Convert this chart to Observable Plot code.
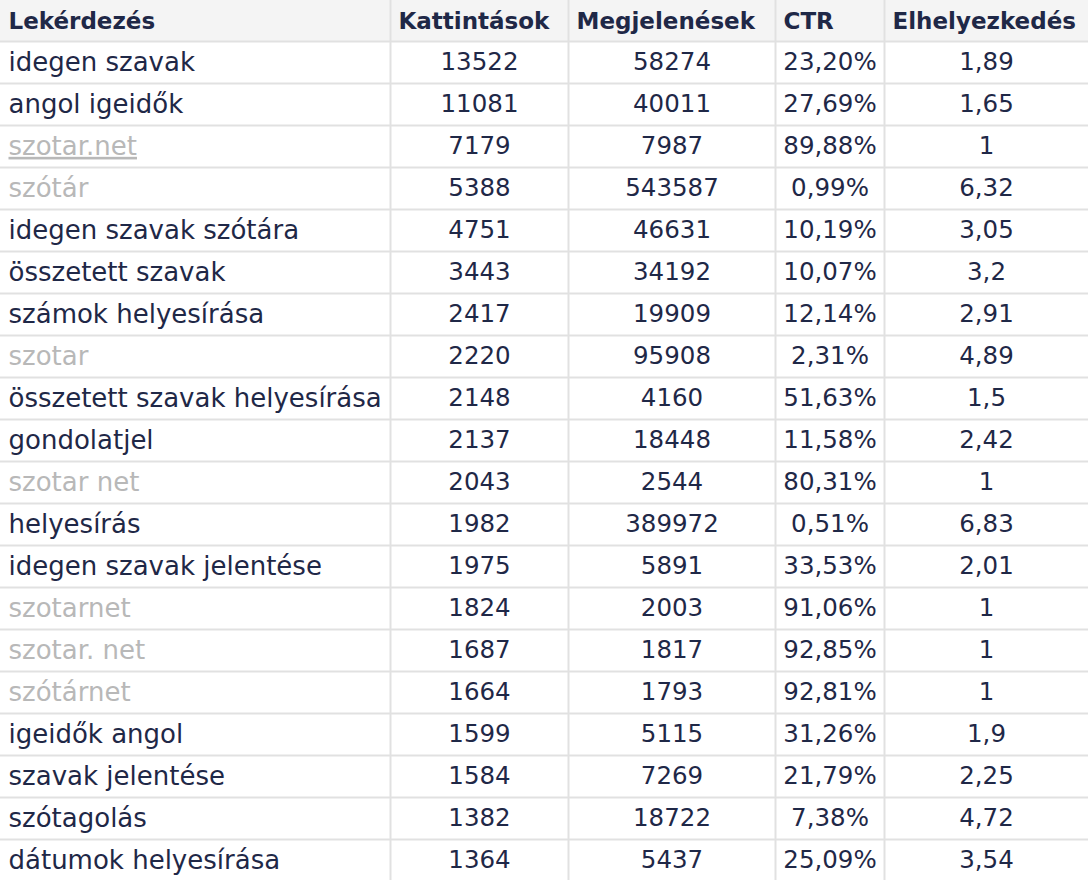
<!DOCTYPE html>
<html>
<head>
<meta charset="utf-8">
<script src="https://cdn.jsdelivr.net/npm/d3@7"></script>
<script src="https://cdn.jsdelivr.net/npm/@observablehq/plot@0.6"></script>
<style>
  html, body { margin: 0; padding: 0; background: #ffffff; }
  #chart svg { display: block; }
</style>
</head>
<body>
<div id="chart"></div>
<script>
// ---- Data ----
const headers = ["Lekérdezés", "Kattintások", "Megjelenések", "CTR", "Elhelyezkedés"];
const queries = [
  "idegen szavak", "angol igeidők", "szotar.net", "szótár", "idegen szavak szótára",
  "összetett szavak", "számok helyesírása", "szotar", "összetett szavak helyesírása", "gondolatjel",
  "szotar net", "helyesírás", "idegen szavak jelentése", "szotarnet", "szotar. net",
  "szótárnet", "igeidők angol", "szavak jelentése", "szótagolás", "dátumok helyesírása"
];
const clicks = [13522, 11081, 7179, 5388, 4751, 3443, 2417, 2220, 2148, 2137,
                2043, 1982, 1975, 1824, 1687, 1664, 1599, 1584, 1382, 1364];
const impressions = [58274, 40011, 7987, 543587, 46631, 34192, 19909, 95908, 4160, 18448,
                     2544, 389972, 5891, 2003, 1817, 1793, 5115, 7269, 18722, 5437];
const ctr = [23.20, 27.69, 89.88, 0.99, 10.19, 10.07, 12.14, 2.31, 51.63, 11.58,
             80.31, 0.51, 33.53, 91.06, 92.85, 92.81, 31.26, 21.79, 7.38, 25.09];
const position = [1.89, 1.65, 1, 6.32, 3.05, 3.2, 2.91, 4.89, 1.5, 2.42,
                  1, 6.83, 2.01, 1, 1, 1, 1.9, 2.25, 4.72, 3.54];
const brandQueries = ["szotar.net", "szótár", "szotar", "szotar net", "szotarnet", "szotar. net", "szótárnet"];
const linkQueries = ["szotar.net"];

// ---- Layout (not data) ----
const W = 1088, H = 880;
const colEdges = [0, 390, 568, 775, 884, W];
const pad = 8;
const dark = "#1f2847";
const gray = "#b8b8b8";
const lineColor = "#e1e1e1";
const fontFamily = "'DejaVu Sans', 'Open Sans', sans-serif";

const fmtInt = v => String(v);
const fmtPct = v => v.toFixed(2).replace(".", ",") + "%";
const fmtNum = v => String(v).replace(".", ",");

const rows = queries.map((q, i) => ({
  row: i + 1,
  query: q,
  brand: brandQueries.includes(q),
  link: linkQueries.includes(q),
  cells: [q, fmtInt(clicks[i]), fmtInt(impressions[i]), fmtPct(ctr[i]), fmtNum(position[i])]
}));

const headerCells = headers.map((h, c) => ({c, text: h, x: colEdges[c] + pad}));
const bodyCells = rows.flatMap(r => r.cells.map((t, c) => ({
  row: r.row, c, text: t,
  x: c === 0 ? colEdges[0] + pad : (colEdges[c] + colEdges[c + 1]) / 2,
  anchor: c === 0 ? "start" : "middle",
  color: (c === 0 && r.brand) ? gray : dark,
  link: c === 0 && r.link
})));

const chart = Plot.plot({
  width: W,
  height: H,
  margin: 0,
  x: {domain: [0, W], range: [0, W], axis: null},
  y: {domain: [0, queries.length + 1], range: [-1, 881], axis: null},
  style: {fontFamily, background: "#ffffff"},
  marks: [
    Plot.rect([0], {x1: 0, x2: W, y1: 0, y2: 1, fill: "#f4f4f4"}),
    Plot.ruleY(d3.range(1, queries.length + 1), {stroke: lineColor, strokeWidth: 2}),
    Plot.ruleX(colEdges.slice(1, -1), {stroke: lineColor, strokeWidth: 2}),
    Plot.text(headerCells, {
      x: "x", y: () => 0.52, text: "text", textAnchor: "start", lineAnchor: "middle",
      fill: dark, fontSize: 23, fontWeight: "bold"
    }),
    Plot.text(bodyCells.filter(d => d.anchor === "start"), {
      x: "x", y: d => d.row + 0.5, text: "text", textAnchor: "start", lineAnchor: "middle",
      fill: d => d.color, fontSize: 26, className: "qcell"
    }),
    Plot.text(bodyCells.filter(d => d.anchor === "middle"), {
      x: "x", y: d => d.row + 0.5, text: "text", textAnchor: "middle", lineAnchor: "middle",
      fill: d => d.color, fontSize: 24.5
    })
  ]
});

// underline link-like queries
d3.select(chart).selectAll(".qcell text")
  .filter(function() { return linkQueries.includes(this.textContent); })
  .attr("text-decoration", "underline");

document.getElementById("chart").appendChild(chart);
</script>
</body>
</html>
